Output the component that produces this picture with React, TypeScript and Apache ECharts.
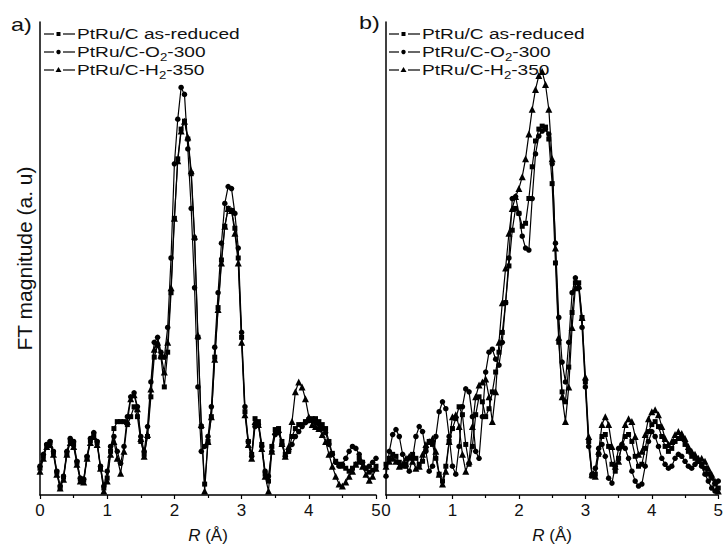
import React, { useEffect, useRef } from 'react';
import * as echarts from 'echarts';

// R grid (Å), sampling step of the FT curves
const R_STEP = 0.05;
const R_GRID: number[] = Array.from({ length: 101 }, (_, i) => +(i * R_STEP).toFixed(2));

const SERIES_NAMES = ['PtRu/C as-reduced', 'PtRu/C-O2-300', 'PtRu/C-H2-350'];
const SERIES_LABELS = ['PtRu/C as-reduced', 'PtRu/C-O{sub|2}-300', 'PtRu/C-H{sub|2}-350'];
const SYMBOLS = ['rect', 'circle', 'triangle'];
const X_TICKS = [0, 1, 2, 3, 4, 5];

// Panel a) FT magnitude (a.u.)
const asReducedA = [27,39,50,53,43,23,8,18,42,55, 51,33,16,15,38,55,61,53,28,7, 17,44,67,74,74,74,71,79,89,79, 54,41,59,99,139,151,139,109,144,204, 279,339,369,377,359,324,259,159,69,11, 54,79,139,189,237,271,289,287,269,239, 159,84,54,41,77,74,51,21,14,49, 66,67,54,41,44,59,67,71,71,74, 76,77,77,74,71,67,54,42,34,31, 29,27,24,27,31,37,33,27,23,25, 29];
const o2A = [29,41,51,54,44,24,9,19,44,57, 54,34,17,16,39,57,63,54,29,9, 24,49,59,44,32,49,79,99,103,89, 59,44,69,114,154,159,144,139,169,239, 334,379,411,404,349,289,209,109,44,49, 59,89,149,204,254,294,311,309,284,249, 164,89,54,39,69,71,49,24,19,44, 61,63,51,39,44,51,59,64,69,73, 75,75,73,71,67,63,51,41,33,29, 31,37,44,49,47,41,33,27,29,33, 37];
const h2A = [24,37,49,51,41,21,7,16,41,53, 49,31,14,13,37,53,59,51,27,4, 14,41,54,37,22,44,74,97,101,87, 57,39,61,107,147,154,141,124,154,209, 279,337,367,377,361,327,261,161,71,4, 54,79,137,187,234,271,289,287,264,234, 154,81,51,37,74,71,47,19,4,44, 64,66,52,39,49,74,104,114,109,97, 79,71,69,67,61,54,41,29,19,11, 9,13,19,24,31,34,29,21,15,19, 27];

// Panel b) FT magnitude (a.u.)
const asReducedB = [31,37,41,39,33,29,31,37,41,37, 31,34,47,54,51,37,21,14,29,54, 67,77,89,81,51,31,49,81,99,94, 79,87,104,124,144,164,194,231,267,289, 284,271,274,299,331,357,369,372,371,359, 314,234,154,104,94,129,184,214,214,179, 114,54,19,21,41,59,61,49,31,24, 37,49,59,61,54,39,29,31,47,64, 71,74,69,59,49,44,47,54,57,57, 51,44,39,37,34,31,27,21,17,11, 7];
const o2B = [19,44,61,66,59,41,29,24,37,59, 69,64,44,24,29,59,84,94,87,59, 29,21,49,89,107,104,79,44,37,79, 124,144,147,137,131,154,194,239,299,301, 284,261,249,247,299,344,362,367,369,364, 334,254,179,134,114,154,204,219,209,169, 109,49,21,27,47,51,39,17,12,29, 47,51,47,37,24,14,9,11,29,54, 64,59,49,37,31,27,29,37,41,39, 34,29,27,31,34,29,21,14,7,4, 14];
const h2B = [29,34,37,34,29,31,37,39,34,27, 29,41,51,54,57,44,21,11,24,54, 79,81,69,41,24,34,69,99,111,114, 117,99,74,104,154,194,229,264,289,301, 309,321,339,364,389,409,423,427,414,389, 339,249,159,99,74,109,169,209,211,179, 119,59,21,19,44,71,79,71,49,29, 34,51,71,77,74,59,41,44,61,77, 84,86,81,69,57,51,54,61,64,62, 57,49,44,41,37,37,34,27,21,14, 4];

const Y_MAX = 477;
const FONT = '"Liberation Sans", Arial, Helvetica, sans-serif';
const INK = '#111';

function App() {
  const ref = useRef<HTMLDivElement>(null);

  useEffect(() => {
    if (!ref.current) return;
    const chart = echarts.init(ref.current, undefined, { renderer: 'svg' });

    const panels = [
      { values: [asReducedA, o2A, h2A] },
      { values: [asReducedB, o2B, h2B] },
    ];

    const series: any[] = [];
    panels.forEach((p, pi) => {
      p.values.forEach((vals, si) => {
        series.push({
          type: 'line',
          name: SERIES_NAMES[si],
          xAxisIndex: pi,
          yAxisIndex: pi,
          data: R_GRID.map((r, i) => [r, vals[i]]),
          symbol: SYMBOLS[si],
          symbolSize: si === 2 ? 7 : si === 0 ? 5 : 5.5,
          showSymbol: true,
          showAllSymbol: true,
          lineStyle: { color: '#000', width: 1.2 },
          itemStyle: { color: '#000' },
          z: 3 - si,
        });
      });
    });

    const xAxisBase = (gi: number) => ({
      type: 'value',
      gridIndex: gi,
      min: 0,
      max: 5,
      interval: 1,
      axisLine: { show: true, onZero: false, lineStyle: { color: '#000', width: 1.5 } },
      axisTick: { show: true, length: 4, lineStyle: { color: '#000', width: 1.2 } },
      minorTick: { show: true, splitNumber: 2, length: 3, lineStyle: { color: '#000', width: 1.2 } },
      splitLine: { show: false },
      minorSplitLine: { show: false },
      axisLabel: {
        color: INK,
        fontSize: 17,
        fontFamily: FONT,
        margin: 7,
        formatter: (v: number) => (X_TICKS.includes(v) ? String(v) : ''),
      },
      name: '{i|R} (Å)',
      nameLocation: 'middle',
      nameGap: 32,
      nameTextStyle: {
        color: INK,
        fontSize: 17,
        fontFamily: FONT,
        rich: { i: { fontStyle: 'italic', fontSize: 17, fontFamily: FONT, color: INK } },
      },
    });

    const yAxisBase = (gi: number) => ({
      type: 'value',
      gridIndex: gi,
      min: 0,
      max: Y_MAX,
      axisLine: { show: true, onZero: false, lineStyle: { color: '#000', width: 1.5 } },
      axisTick: { show: false },
      axisLabel: { show: false },
      splitLine: { show: false },
      name: gi === 0 ? 'FT magnitude (a. u)' : '',
      nameLocation: 'middle',
      nameGap: 5,
      nameTextStyle: { color: INK, fontSize: 21, fontFamily: FONT },
    });

    const graphics: any[] = [];
    // panel labels
    [
      { t: 'a)', x: 11, y: 25 },
      { t: 'b)', x: 359, y: 23 },
    ].forEach((p) => {
      graphics.push({
        type: 'text',
        x: p.x,
        y: p.y,
        scaleX: 1.3,
        style: { x: 0, y: 0, text: p.t, fontSize: 18, fontFamily: FONT, fill: INK, verticalAlign: 'middle' },
      });
    });

    // legends
    const legendX = [44, 389];
    const rowsY = [34, 52, 70];
    legendX.forEach((x0) => {
      rowsY.forEach((y, si) => {
        graphics.push({ type: 'line', shape: { x1: x0, y1: y, x2: x0 + 10, y2: y }, style: { stroke: '#000', lineWidth: 1.2 } });
        graphics.push({ type: 'line', shape: { x1: x0 + 19, y1: y, x2: x0 + 31, y2: y }, style: { stroke: '#000', lineWidth: 1.2 } });
        if (si === 0) {
          graphics.push({ type: 'rect', shape: { x: x0 + 12.5, y: y - 2, width: 4, height: 4 }, style: { fill: '#000' } });
        } else if (si === 1) {
          graphics.push({ type: 'circle', shape: { cx: x0 + 14.5, cy: y, r: 2.2 }, style: { fill: '#000' } });
        } else {
          graphics.push({ type: 'polygon', shape: { points: [[x0 + 14.5, y - 3], [x0 + 11.5, y + 2], [x0 + 17.5, y + 2]] }, style: { fill: '#000' } });
        }
        graphics.push({
          type: 'text',
          x: x0 + 33,
          y: y,
          scaleX: 1.32,
          style: {
            x: 0,
            y: 0,
            text: SERIES_LABELS[si],
            fontSize: 14.5,
            lineHeight: 20,
            fontFamily: FONT,
            fill: INK,
            verticalAlign: 'middle',
            rich: { sub: { fontSize: 10, lineHeight: 10, verticalAlign: 'bottom', fontFamily: FONT, fill: INK } },
          },
        });
      });
    });

    chart.setOption({
      animation: false,
      backgroundColor: '#fff',
      grid: [
        { left: 40, top: 22, width: 336, height: 477, containLabel: false },
        { left: 386, top: 22, width: 335, height: 477, containLabel: false },
      ],
      xAxis: [xAxisBase(0), xAxisBase(1)],
      yAxis: [yAxisBase(0), yAxisBase(1)],
      series,
      graphic: graphics,
    });

    return () => chart.dispose();
  }, []);

  return (
    <div
      ref={ref}
      style={{ position: 'absolute', left: 0, top: 0, width: 726, height: 549, background: '#fff' }}
    />
  );
}

export default App;
